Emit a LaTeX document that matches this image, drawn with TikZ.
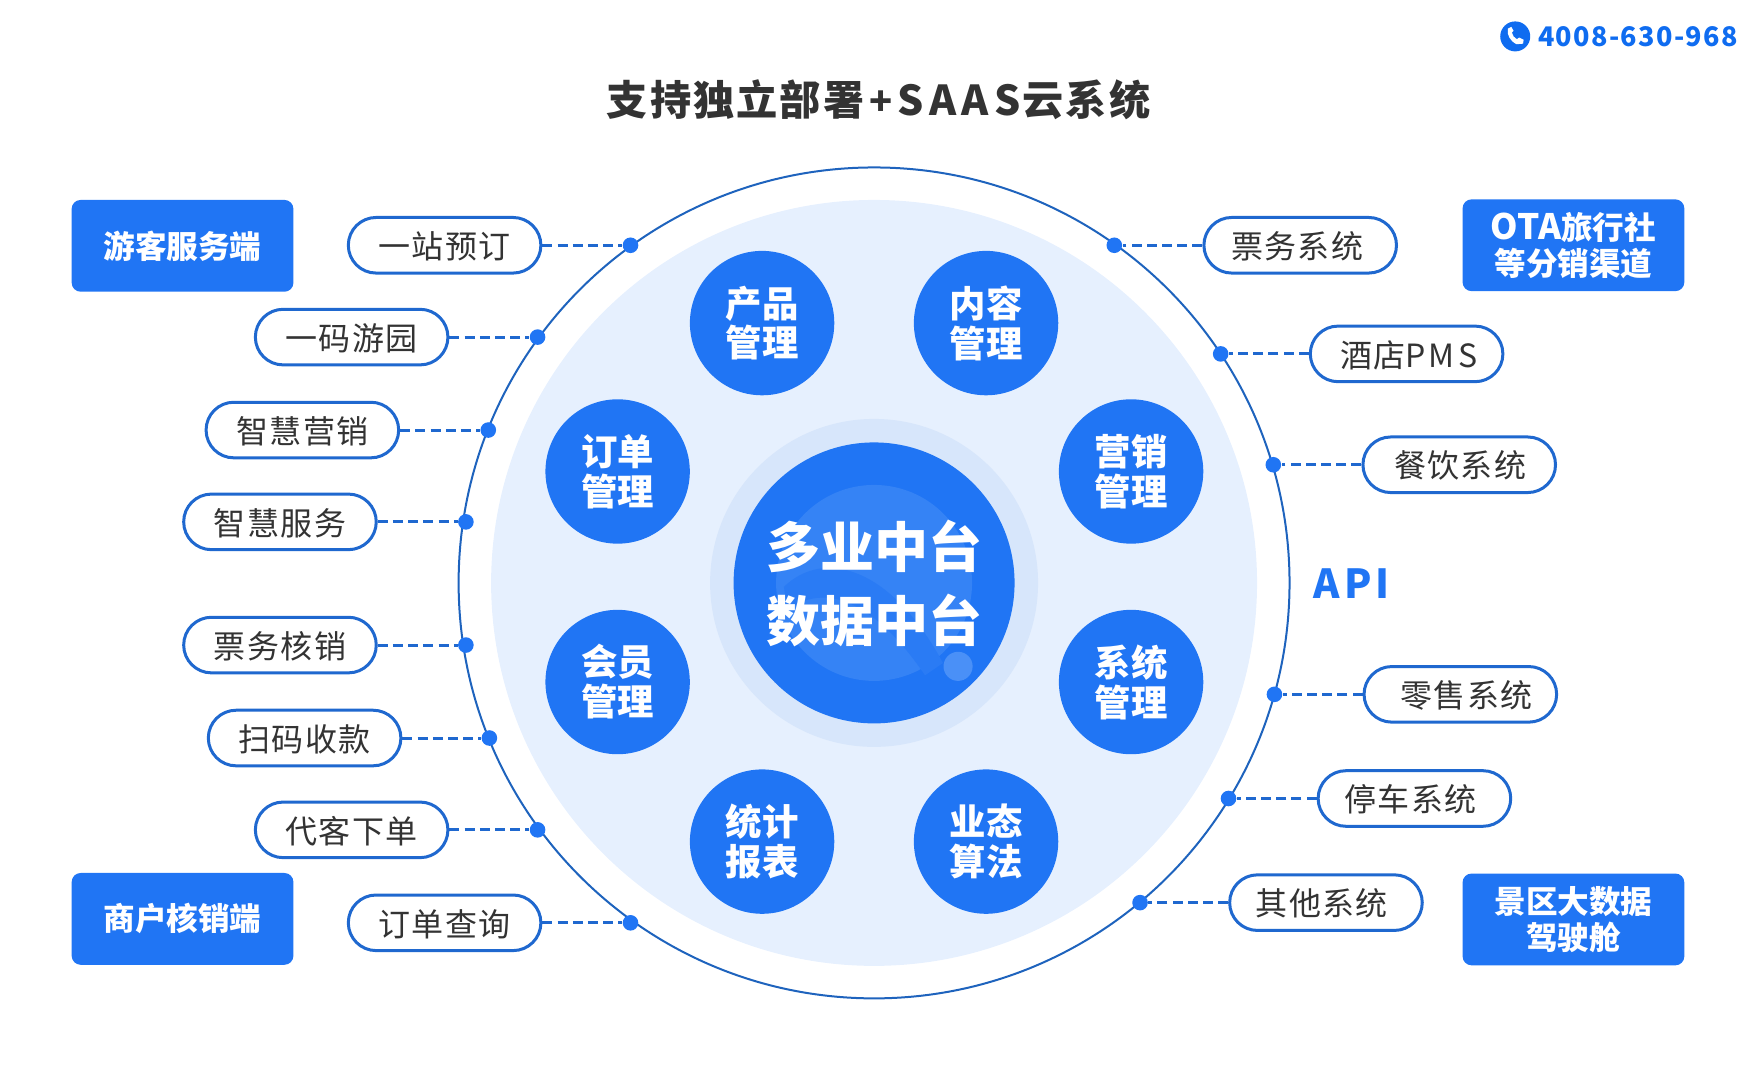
\documentclass[tikz,border=0pt]{standalone}
\usepackage{fontspec}
\usetikzlibrary{shapes.misc}
\newfontfamily\cjk{Noto Sans CJK SC}
\newfontfamily\cjktitle[LetterSpace=5]{Noto Sans CJK SC}
\newfontfamily\cjksaas[LetterSpace=13]{Noto Sans CJK SC}
\newfontfamily\cjkpill[LetterSpace=4.3]{Noto Sans CJK SC}
\newfontfamily\cjkpms[LetterSpace=10]{Noto Sans CJK SC}
\newfontfamily\cjkphone[LetterSpace=5]{Noto Sans CJK SC}
\newfontfamily\cjkapi[LetterSpace=10]{Noto Sans CJK SC}
\definecolor{mainblue}{HTML}{2075F4}
\definecolor{linkblue}{HTML}{1F68CF}
\definecolor{ringblue}{HTML}{1E63BD}
\definecolor{paleblue}{HTML}{E6F0FE}
\definecolor{haloblue}{HTML}{D7E6FB}
\definecolor{wmlight}{HTML}{3583F5}
\definecolor{wmdark}{HTML}{2A7BF4}
\definecolor{wmdot}{HTML}{4A90F7}
\definecolor{inkgrey}{HTML}{333333}
\definecolor{phoneblue}{HTML}{0F6CF0}
\tikzset{
  x=0.56pt,y=-0.56pt,
  tagbox/.style={rectangle,rounded corners=4.5pt,fill=mainblue,text=white,minimum width=110.9pt,minimum height=45.9pt,inner sep=0pt,align=center,font=\cjk\bfseries\fontsize{15.8}{18}\selectfont},
  module/.style={circle,fill=mainblue,text=white,minimum size=72.2pt,inner sep=0pt,align=center,font=\cjk\bfseries\fontsize{18.2}{20}\selectfont},
  pill/.style={rounded rectangle,draw=linkblue,line width=1.5pt,fill=white,text=inkgrey,minimum width=96.3pt,minimum height=27.8pt,inner sep=0pt,text height=15.2pt,text depth=2pt,font=\cjkpill\fontsize{16}{18}\selectfont},
  dotnode/.style={circle,fill=mainblue,minimum size=7.8pt,inner sep=0pt},
  link/.style={draw=linkblue,line width=1.5pt,dash pattern=on 5pt off 2.6pt},
  disc/.style={circle,inner sep=0pt},
}
\begin{document}
\begin{tikzpicture}
\useasboundingbox (0,0) rectangle (1568,964.3);
% discs
\node[disc,draw=ringblue,line width=1pt,minimum size=415.5pt] (ring) at (780.5,520.5) {};
\node[disc,fill=paleblue,minimum size=383pt] (plate) at (780.5,520.5) {};
\node[disc,fill=haloblue,minimum size=164pt] (halo) at (780.5,520.5) {};
\node[disc,fill=mainblue,minimum size=140.5pt] (core) at (780.5,520.5) {};
% watermark
\fill[wmlight] (780.5,520.5) circle (87.5);
\fill[wmdark] (700,524) .. controls (735,490) and (795,505) .. (842,592) -- (826,603) .. controls (780,535) and (735,520) .. (703,545) -- cycle;
\fill[wmdot] (855.5,595) circle (13);
\node[inner sep=0pt,text=white,align=center,font=\cjk\bfseries\fontsize{27}{36.6}\selectfont] (coretext) at (780.5,521) {多业中台\\数据中台};
% title
\node[inner sep=0pt,text=inkgrey,font=\cjktitle\bfseries\fontsize{20.6}{24}\selectfont] (title) at (784.5,89.5) {支持独立部署\kern2.5pt{\fontsize{19}{24}\selectfont +}\kern2.5pt{\cjksaas SAAS}\kern1pt 云系统};
% phone
\node[disc,fill=phoneblue,minimum size=15pt] (phoneicon) at (1353,32.5) {};
\fill[white] (1346.5,25.5) .. controls (1345,31) and (1349,37) .. (1354,39.5) -- (1360,39) -- (1360.5,35.5) -- (1356.5,33.5) -- (1354.5,35) .. controls (1352,34) and (1350.5,31.5) .. (1350,29) -- (1351.5,27.5) -- (1349.5,24) -- cycle;
\node[inner sep=0pt,anchor=west,text=phoneblue,font=\cjkphone\bfseries\fontsize{13.5}{16}\selectfont] (phonetext) at (1373,33) {4008-630-968};
% API
\node[inner sep=0pt,text=mainblue,font=\cjkapi\bfseries\fontsize{20}{24}\selectfont] (api) at (1207,521) {API};
% corner boxes
\node[tagbox] (guest) at (163,219.5) {游客服务端};
\node[tagbox] (merchant) at (163,820.5) {商户核销端};
\node[tagbox] (ota) at (1405,219) {{\fontsize{17.5}{18}\selectfont OTA}旅行社\\等分销渠道};
\node[tagbox] (bigdata) at (1405,821) {景区大数据\\驾驶舱};
% modules
\node[module] (m1) at (680.5,288.5) {产品\\管理};
\node[module] (m2) at (880.5,288.5) {内容\\管理};
\node[module] (m3) at (551.5,421) {订单\\管理};
\node[module] (m4) at (1010,421) {营销\\管理};
\node[module] (m5) at (551.5,609) {会员\\管理};
\node[module] (m6) at (1010,609) {系统\\管理};
\node[module] (m7) at (680.5,751.5) {统计\\报表};
\node[module] (m8) at (880.5,751.5) {业态\\算法};
% dots
\node[dotnode] (d1) at (563,219) {};
\node[dotnode] (d2) at (480,301) {};
\node[dotnode] (d3) at (436,384) {};
\node[dotnode] (d4) at (416,466) {};
\node[dotnode] (d5) at (416,576) {};
\node[dotnode] (d6) at (437,659) {};
\node[dotnode] (d7) at (480,741) {};
\node[dotnode] (d8) at (563,824) {};
\node[dotnode] (d9) at (995,219) {};
\node[dotnode] (d10) at (1090,316) {};
\node[dotnode] (d11) at (1137,415) {};
\node[dotnode] (d12) at (1138,620) {};
\node[dotnode] (d13) at (1097,713) {};
\node[dotnode] (d14) at (1018,806) {};
% pills
\node[pill] (p1) at (397,219) {一站预订};
\node[pill] (p2) at (314,301) {一码游园};
\node[pill] (p3) at (270,384) {智慧营销};
\node[pill] (p4) at (250,466) {智慧服务};
\node[pill] (p5) at (250,576) {票务核销};
\node[pill] (p6) at (272,659) {扫码收款};
\node[pill] (p7) at (314,741) {代客下单};
\node[pill] (p8) at (397,824) {订单查询};
\node[pill] (p9) at (1161,219) {票务系统\kern3pt};
\node[pill] (p10) at (1256,316) {\kern2pt 酒店{\cjkpms PMS}};
\node[pill] (p11) at (1303,415) {\kern1pt 餐饮系统};
\node[pill] (p12) at (1304,620) {\kern6pt 零售系统};
\node[pill] (p13) at (1263,713) {停车系统\kern4pt};
\node[pill] (p14) at (1184,806) {其他系统\kern4pt};
% links
\foreach \a/\b in {p1/d1,p2/d2,p3/d3,p4/d4,p5/d5,p6/d6,p7/d7,p8/d8}
  \draw[link] (\a.east) -- (\b.west);
\foreach \a/\b in {p9/d9,p10/d10,p11/d11,p12/d12,p13/d13,p14/d14}
  \draw[link] (\a.west) -- (\b.east);
\end{tikzpicture}
\end{document}
